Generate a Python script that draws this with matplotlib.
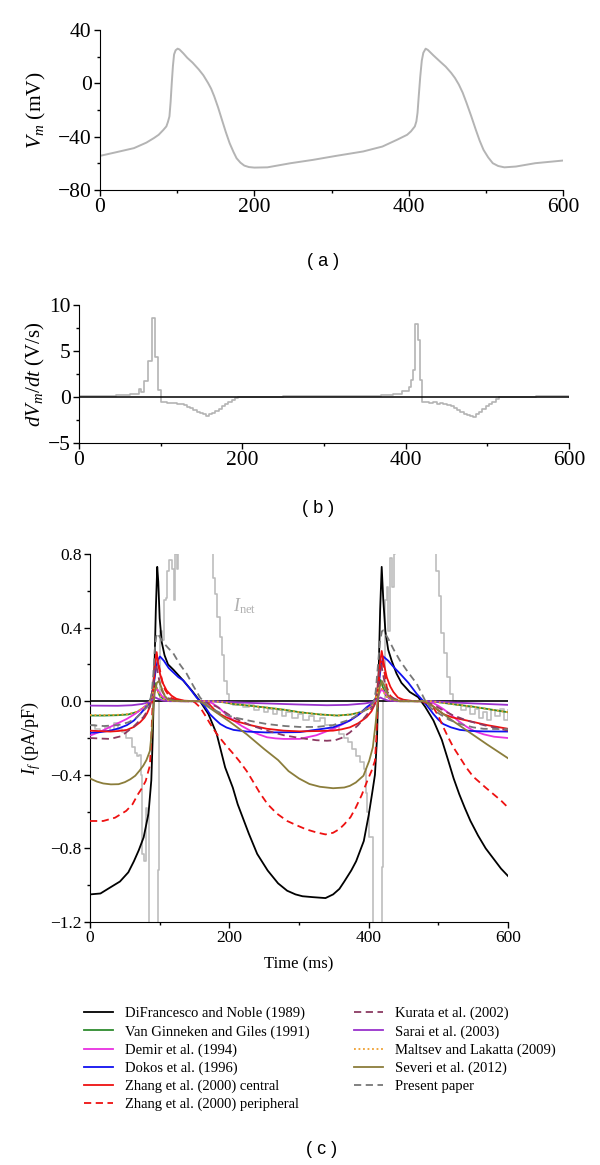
import matplotlib
matplotlib.use("Agg")
import matplotlib.pyplot as plt
from matplotlib.ticker import MultipleLocator, FuncFormatter
from matplotlib.lines import Line2D

plt.rcParams["font.family"] = ["Liberation Serif", "DejaVu Serif"]
plt.rcParams["mathtext.fontset"] = "custom"
plt.rcParams["mathtext.rm"] = "Liberation Serif"
plt.rcParams["mathtext.it"] = "Liberation Serif:italic"

# ------------------ DATA ------------------
# (a) membrane potential
vm_t = [0, 20, 44, 60, 70, 76, 82, 86, 88, 90, 91.5, 93, 94.5, 96, 98, 100.6, 103, 108, 113,
        120, 128, 134, 140, 144, 148, 153, 158, 163, 168, 173, 177, 182, 187, 193, 200, 217,
        247, 276, 306, 341, 366, 385, 398, 403, 408, 410, 411.5, 413, 415, 417, 419, 422, 425,
        432, 440, 448, 455, 460, 465, 470, 475, 481, 487, 492, 497, 503, 509, 516, 524, 539,
        564, 600]
vm_v = [-54.4, -51.8, -48.6, -44.5, -41, -38.6, -35, -32.3, -29, -24.8, -14, 0.3, 13, 21.7,
        24.8, 26, 25.4, 22.5, 19.2, 15.5, 10.4, 6, 0.3, -4, -9.7, -18, -27.3, -36.5, -44.9,
        -51.5, -56.2, -59.5, -61.7, -62.8, -63.2, -63, -59.9, -57.4, -54.4, -51.1, -47.4,
        -42.3, -38.6, -36, -32.3, -28.5, -22, -10, 5, 17, 22.9, 26, 25, 21, 16.7, 12.5, 7.9,
        4, -0.9, -7, -14.7, -24.5, -34.8, -43, -49.9, -55.5, -59.9, -62, -63, -62.4, -59.9,
        -57.9]

# (b) dVm/dt (steps)
dv_t = [0, 15, 30, 45, 55, 62, 69, 73, 76, 79, 84, 89, 93, 96.5, 100, 104, 108, 112, 116, 120,
        124, 128, 132, 136, 140, 144, 148, 152, 155, 159, 163, 167, 171, 175, 179, 183, 187,
        191, 195, 250, 300, 340, 370, 385, 393, 396, 404, 407, 409.5, 411.5, 415.5, 417.5, 420,
        428, 434, 438, 442, 446, 450, 455, 459, 463, 467, 471, 475, 479, 483, 486, 490, 494,
        498, 502, 506, 510, 514, 518, 560, 600]
dv_v = [0.1, 0.12, 0.15, 0.2, 0.25, 0.3, 0.35, 0.9, 0.5, 1.7, 3.9, 8.6, 4.3, 0.8, -0.5, -0.55,
        -0.6, -0.7, -0.65, -0.8, -0.75, -0.9, -1.05, -1.2, -1.4, -1.6, -1.75, -1.9, -2.05,
        -1.9, -1.75, -1.55, -1.3, -1.0, -0.75, -0.5, -0.3, -0.1, 0.04, 0.06, 0.08, 0.12, 0.2,
        0.3, 0.35, 0.7, 1.1, 1.8, 2.9, 7.9, 6.2, 1.8, -0.55, -0.6, -0.55, -0.75, -0.65, -0.8,
        -0.9, -1.0, -1.15, -1.4, -1.6, -1.8, -1.95, -2.05, -2.15, -1.9, -1.6, -1.3, -1.0,
        -0.75, -0.5, -0.25, -0.05, 0.04, 0.06, 0.04]

# (c) I_net (steps, clipped by the axes)
inet_t = [0, 7, 14, 22, 28, 34, 40, 46, 52, 57, 60, 64, 68, 71, 73, 75, 78, 80, 82, 84, 97,
          99, 100.5, 104, 106, 109, 111, 114, 117, 120, 122, 125, 127, 177, 180, 183, 186,
          189, 192, 196, 199, 205, 212, 220, 228, 235, 242, 250, 256, 262, 268, 275, 282,
          290, 298, 306, 314, 322, 330, 338, 346, 352, 358, 364, 370, 376, 382, 388, 393,
          396, 398, 401, 406, 419, 421, 423, 426, 428, 431, 434, 436, 438, 497, 501, 504,
          508, 513, 517, 521, 526, 533, 540, 546, 552, 558, 564, 570, 576, 582, 588, 594, 600]
inet_v = [-0.13, -0.15, -0.16, -0.14, -0.16, -0.12, -0.15, -0.17, -0.2, -0.2, -0.25, -0.28,
          -0.3, -0.29, -0.4, -0.83, -0.87, -0.58, -0.62, -1.6, -0.92, 0.0, 0.38, 0.33, 0.55,
          0.56, 0.71, 0.77, 0.72, 0.55, 0.8, 0.72, 1.5, 0.67, 0.58, 0.46, 0.35, 0.25, 0.11,
          0.04, -0.01, -0.02, -0.01, -0.03, -0.02, -0.05, -0.03, -0.06, -0.04, -0.07, -0.05,
          -0.08, -0.06, -0.09, -0.07, -0.1, -0.08, -0.11, -0.09, -0.13, -0.15, -0.13, -0.18,
          -0.2, -0.22, -0.26, -0.3, -0.33, -0.37, -0.5, -0.6, -0.74, -1.6, -0.9, 0.0, 0.55,
          0.62, 0.38, 0.78, 0.62, 0.8, 1.5, 0.71, 0.57, 0.37, 0.26, 0.13, 0.04, 0.0, -0.02,
          -0.05, -0.03, -0.07, -0.04, -0.09, -0.06, -0.1, -0.05, -0.08, -0.04, -0.1, -0.05]

# (c) I_f of the models
dfn_t = [0, 15, 30, 43, 55, 63, 70, 77, 84, 88, 90, 92, 94.5, 96.5, 98, 100, 103, 107, 112,
         120, 132, 146, 158, 170, 182, 194, 205, 212, 220, 228, 240, 255, 270, 283, 295, 305,
         320, 338, 349, 358, 365, 375, 382, 388, 393, 400, 405, 409, 412, 414, 416.5, 418.7,
         421, 424, 428, 433, 440, 447, 459, 471, 481, 493, 505, 514, 522, 530, 538, 546, 557,
         568, 580, 590, 600]
dfn_v = [-1.05, -1.045, -1.01, -0.98, -0.93, -0.87, -0.81, -0.74, -0.61, -0.43, -0.2, 0.1, 0.5,
         0.73, 0.65, 0.45, 0.32, 0.25, 0.2, 0.17, 0.12, 0.058, 0.0, -0.07, -0.18, -0.36,
         -0.47, -0.56, -0.64, -0.72, -0.83, -0.92, -0.99, -1.03, -1.05, -1.06, -1.065, -1.07,
         -1.05, -1.02, -0.98, -0.92, -0.87, -0.81, -0.76, -0.62, -0.5, -0.4, -0.2, 0.1, 0.5,
         0.73, 0.55, 0.38, 0.28, 0.22, 0.15, 0.1, 0.05, 0.022, -0.03, -0.105, -0.21, -0.32,
         -0.42, -0.505, -0.58, -0.65, -0.73, -0.8, -0.86, -0.91, -0.95]

vg_t = [0, 20, 40, 55, 68, 77, 84, 88, 91, 93, 96, 100, 106, 115, 130, 175, 190, 206, 230,
        254, 280, 301, 330, 355, 375, 390, 400, 407, 411, 414, 417, 420, 425, 432, 445, 490,
        505, 525, 550, 575, 600]
vg_v = [-0.078, -0.078, -0.076, -0.072, -0.058, -0.035, -0.012, 0.02, 0.08, 0.1, 0.07, 0.03,
        0.01, 0.002, 0.0, 0.0, -0.005, -0.015, -0.025, -0.035, -0.047, -0.06, -0.072, -0.078,
        -0.072, -0.058, -0.04, -0.015, 0.03, 0.09, 0.115, 0.08, 0.03, 0.01, 0.0, 0.0, -0.008,
        -0.018, -0.03, -0.045, -0.06]

dem_t = [0, 15, 29, 41, 53, 65, 77, 86, 90, 93, 95.7, 99, 104, 110, 120, 130, 165, 175, 185,
         195, 206, 218, 230, 242, 254, 266, 278, 301, 325, 349, 361, 373, 385, 397, 405, 411.5,
         415, 418.7, 423, 430, 440, 480, 490, 500, 508, 517, 528, 541, 552, 565, 580, 600]
dem_v = [-0.187, -0.165, -0.14, -0.118, -0.096, -0.068, -0.035, -0.01, 0.02, 0.055, 0.068,
         0.05, 0.025, 0.012, 0.003, 0.0, 0.0, -0.01, -0.035, -0.07, -0.105, -0.135, -0.16,
         -0.18, -0.196, -0.202, -0.205, -0.205, -0.185, -0.15, -0.128, -0.105, -0.075, -0.04,
         -0.02, 0.004, 0.04, 0.067, 0.045, 0.015, 0.003, 0.0, -0.005, -0.025, -0.045, -0.07,
         -0.105, -0.14, -0.163, -0.18, -0.193, -0.2]

dok_t = [0, 15, 29, 41, 53, 63, 72, 80, 85, 88, 91, 94, 97, 100.5, 106, 113, 120, 127, 134,
         143, 153, 158, 165, 172, 180, 187, 196, 206, 225, 254, 301, 325, 349, 361, 373, 385,
         397, 405, 411.5, 414, 417, 421, 428, 436, 445, 457, 469, 478.6, 486, 493, 500, 507,
         518, 531, 548, 565, 600]
dok_v = [-0.172, -0.168, -0.16, -0.148, -0.13, -0.105, -0.069, -0.035, -0.015, 0.02, 0.08,
         0.16, 0.22, 0.243, 0.22, 0.18, 0.155, 0.13, 0.113, 0.07, 0.02, 0.0, -0.03, -0.07,
         -0.1, -0.124, -0.143, -0.156, -0.165, -0.17, -0.168, -0.155, -0.142, -0.125, -0.105,
         -0.075, -0.033, -0.01, 0.02, 0.08, 0.17, 0.243, 0.22, 0.185, 0.15, 0.1, 0.04, 0.0,
         -0.035, -0.07, -0.1, -0.124, -0.142, -0.156, -0.162, -0.164, -0.165]

zc_t = [0, 15, 29, 41, 53, 63, 72, 78, 82, 86, 89, 91, 93, 95.7, 98, 100.5, 105, 110, 117,
        124, 135, 150, 165, 172, 182, 194, 206, 230, 254, 278, 301, 330, 349, 361, 373, 385,
        397, 404, 409, 412, 415, 418.7, 422, 426, 431, 435.5, 442, 450, 465, 480, 490, 500,
        507, 520, 541, 570, 600]
zc_v = [-0.16, -0.163, -0.165, -0.162, -0.156, -0.14, -0.114, -0.09, -0.065, -0.03, 0.02, 0.1,
        0.2, 0.267, 0.2, 0.149, 0.095, 0.058, 0.03, 0.013, 0.003, 0.0, 0.0, -0.02, -0.06,
        -0.085, -0.105, -0.13, -0.15, -0.16, -0.164, -0.162, -0.16, -0.153, -0.142, -0.12,
        -0.087, -0.055, -0.015, 0.05, 0.17, 0.273, 0.2, 0.13, 0.08, 0.05, 0.02, 0.008, 0.0,
        0.0, -0.02, -0.05, -0.07, -0.088, -0.105, -0.13, -0.15]

zp_t = [0, 19, 36, 52, 61, 69, 75, 80, 83, 86, 88, 89.5, 91, 93, 95, 97, 100.5, 104, 108,
        115, 125, 140, 150, 158, 165, 172, 182, 194, 206, 214, 225, 233, 244, 255, 268, 283,
        297, 310, 324, 338, 349, 358, 365, 374, 381.5, 390, 398, 404, 409, 411, 413, 415,
        417.5, 420, 423, 426, 431, 437, 450, 470, 480, 486, 493, 500, 507, 514, 521.5, 530,
        540, 550, 557, 568, 579, 590, 600]
zp_v = [-0.651, -0.651, -0.633, -0.596, -0.56, -0.505, -0.47, -0.433, -0.39, -0.35, -0.2,
        -0.05, 0.05, 0.18, 0.25, 0.22, 0.167, 0.1, 0.06, 0.02, 0.005, 0.0, -0.005, -0.033,
        -0.075, -0.12, -0.178, -0.235, -0.287, -0.324, -0.38, -0.43, -0.5, -0.56, -0.61,
        -0.651, -0.675, -0.696, -0.712, -0.724, -0.715, -0.695, -0.669, -0.63, -0.578, -0.51,
        -0.433, -0.38, -0.324, -0.2, 0.0, 0.12, 0.22, 0.21, 0.15, 0.076, 0.03, 0.01, 0.002,
        0.0, -0.005, -0.015, -0.035, -0.08, -0.14, -0.195, -0.25, -0.3, -0.36, -0.41, -0.433,
        -0.47, -0.505, -0.54, -0.578]

kur_t = [0, 15, 29, 45, 62, 70, 76.5, 82, 86, 89, 91, 93, 95, 97, 100, 104, 110, 120, 135,
         160, 170, 182, 194, 206, 230, 254, 278, 301, 325, 340, 352, 361, 373, 385, 397, 405,
         410, 412, 414, 416, 418, 420, 423, 427, 433, 443, 458, 480, 493, 507, 520, 541, 565,
         600]
kur_v = [-0.2, -0.203, -0.205, -0.19, -0.14, -0.11, -0.087, -0.055, -0.024, 0.03, 0.1, 0.17,
         0.2, 0.16, 0.1, 0.05, 0.02, 0.005, 0.0, 0.0, -0.01, -0.03, -0.06, -0.09, -0.13,
         -0.16, -0.185, -0.2, -0.212, -0.215, -0.212, -0.2, -0.17, -0.13, -0.075, -0.035,
         -0.01, 0.03, 0.1, 0.17, 0.2, 0.16, 0.1, 0.05, 0.02, 0.005, 0.0, 0.0, -0.02, -0.05,
         -0.075, -0.105, -0.13, -0.16]

sar_t = [0, 40, 60, 75, 85, 90, 94, 98, 105, 115, 170, 185, 220, 260, 300, 340, 370, 395, 408,
         413, 417, 421, 428, 440, 490, 510, 550, 600]
sar_v = [-0.024, -0.025, -0.022, -0.015, -0.005, 0.01, 0.02, 0.012, 0.003, 0.0, 0.0, -0.002,
         -0.008, -0.013, -0.018, -0.022, -0.02, -0.012, -0.003, 0.01, 0.02, 0.012, 0.003, 0.0,
         0.0, -0.005, -0.012, -0.02]

mal_t = [0, 20, 40, 55, 68, 77, 84, 88, 91, 94, 97, 101, 107, 115, 130, 175, 190, 206, 230,
         254, 280, 301, 330, 355, 375, 390, 400, 407, 411, 414, 417, 420, 425, 432, 445, 490,
         505, 525, 550, 575, 600]
mal_v = [-0.075, -0.076, -0.074, -0.07, -0.056, -0.034, -0.012, 0.015, 0.06, 0.08, 0.055,
         0.025, 0.008, 0.002, 0.0, 0.0, -0.005, -0.015, -0.025, -0.035, -0.047, -0.06, -0.072,
         -0.078, -0.072, -0.058, -0.04, -0.015, 0.025, 0.07, 0.09, 0.06, 0.025, 0.008, 0.0,
         0.0, -0.008, -0.018, -0.03, -0.045, -0.06]

sev_t = [0, 10, 19, 30, 41, 50, 58, 65, 71, 76.5, 81, 86, 89, 91, 93, 96, 99, 103, 107, 112,
         120, 158, 175, 200, 225, 250, 270, 285, 300, 315, 330, 349, 365, 373, 381.5, 392.5,
         400.8, 406, 410, 413, 416, 419, 423, 428, 434, 445, 480, 495, 520, 545, 570, 600]
sev_v = [-0.42, -0.437, -0.447, -0.452, -0.451, -0.44, -0.424, -0.405, -0.378, -0.35, -0.32,
         -0.27, -0.15, -0.03, 0.05, 0.1, 0.11, 0.07, 0.03, 0.01, 0.002, 0.0, -0.045, -0.11,
         -0.18, -0.26, -0.32, -0.38, -0.42, -0.45, -0.465, -0.473, -0.469, -0.46, -0.442,
         -0.405, -0.324, -0.25, -0.12, 0.0, 0.08, 0.11, 0.08, 0.03, 0.01, 0.0, 0.0, -0.035,
         -0.105, -0.17, -0.235, -0.31]

pres_t = [0, 20, 40, 55, 65, 75, 82, 86, 89, 91, 93, 95, 97, 100, 105, 112, 119.6, 129, 138.7,
          148, 158, 165, 172, 185, 205.7, 230, 253.6, 280, 301, 325, 349, 373, 390, 400, 407,
          410, 413, 416, 419, 421, 428, 436, 445, 457, 469, 475, 481, 490, 502, 515, 531, 550,
          565, 600]
pres_v = [-0.13, -0.135, -0.13, -0.115, -0.095, -0.06, -0.03, -0.005, 0.06, 0.15, 0.28, 0.35,
          0.37, 0.35, 0.32, 0.29, 0.26, 0.2, 0.15, 0.085, 0.02, -0.01, -0.033, -0.06, -0.087,
          -0.107, -0.124, -0.135, -0.14, -0.14, -0.13, -0.1, -0.06, -0.03, -0.005, 0.05, 0.18,
          0.32, 0.38, 0.385, 0.34, 0.28, 0.22, 0.155, 0.095, 0.05, 0.004, -0.04, -0.07, -0.1,
          -0.124, -0.142, -0.15, -0.152]

model_names = ["DiFrancesco and Noble (1989)", "Van Ginneken and Giles (1991)",
               "Demir et al. (1994)", "Dokos et al. (1996)", "Zhang et al. (2000) central",
               "Zhang et al. (2000) peripheral", "Kurata et al. (2002)", "Sarai et al. (2003)",
               "Maltsev and Lakatta (2009)", "Severi et al. (2012)", "Present paper"]

# ------------------ PLOT ------------------
W, H = 600, 1165
fig = plt.figure(figsize=(W / 100, H / 100), dpi=100)


def axes_px(x0, y0, x1, y1):
    return fig.add_axes([x0 / W, 1 - y1 / H, (x1 - x0) / W, (y1 - y0) / H])


def style(ax, fs):
    for s in ("top", "right"):
        ax.spines[s].set_visible(False)
    ax.tick_params(which="major", direction="out", length=4, width=1, labelsize=fs, pad=2)
    ax.tick_params(which="minor", direction="out", length=2.5, width=1)
    ax.set_xlim(0, 600)
    ax.xaxis.set_major_locator(MultipleLocator(200))
    ax.xaxis.set_minor_locator(MultipleLocator(100))


gray = "#b4b4b4"

# (a)
ax_a = axes_px(100, 30, 563, 190)
style(ax_a, 15.5)
ax_a.plot(vm_t, vm_v, color=gray, lw=1.4)
ax_a.set_ylim(-80, 40)
ax_a.yaxis.set_major_locator(MultipleLocator(40))
ax_a.yaxis.set_minor_locator(MultipleLocator(20))
ax_a.set_ylabel(r"$V_m$ (mV)", fontsize=15.5)
ax_a.yaxis.set_label_coords(-0.113, 0.5)
fig.text(323 / W, 1 - 261 / H, "( a )", ha="center", va="center",
         family="Liberation Sans", fontsize=13)

# (b)
ax_b = axes_px(79, 305, 569, 443)
style(ax_b, 15.5)
ax_b.plot(dv_t, dv_v, color=gray, lw=1.2, drawstyle="steps-post", zorder=2)
ax_b.axhline(0, color="black", lw=1.1, zorder=3)
ax_b.set_ylim(-5, 10)
ax_b.yaxis.set_major_locator(MultipleLocator(5))
ax_b.yaxis.set_minor_locator(MultipleLocator(2.5))
ax_b.set_ylabel(r"$dV_m/dt$ (V/s)", fontsize=15)
ax_b.yaxis.set_label_coords(-0.066, 0.5)
fig.text(318 / W, 1 - 508 / H, "( b )", ha="center", va="center",
         family="Liberation Sans", fontsize=13)

# (c)
ax_c = axes_px(90, 554, 508, 922)
style(ax_c, 12.5)
ax_c.set_ylim(-1.2, 0.8)
ax_c.yaxis.set_major_locator(MultipleLocator(0.4))
ax_c.yaxis.set_minor_locator(MultipleLocator(0.2))
ax_c.yaxis.set_major_formatter(FuncFormatter(lambda v, p: f"{v:.1f}".replace("-", "\u2212")))
ax_c.plot(inet_t, inet_v, color="#bdbdbd", lw=1.2, drawstyle="steps-post", zorder=1)
ax_c.axhline(0, color="black", lw=1.2, zorder=2)
ax_c.text(205, 0.49, r"$I_{\mathrm{net}}$", color="#b0b0b0", fontsize=13)

series = [
    (dfn_t, dfn_v, "#000000", "-"),
    (vg_t, vg_v, "#2e8b2e", "-"),
    (dem_t, dem_v, "#e830e0", "-"),
    (dok_t, dok_v, "#1010f0", "-"),
    (zc_t, zc_v, "#ee1111", "-"),
    (zp_t, zp_v, "#ee1111", (0, (4, 2.5))),
    (kur_t, kur_v, "#8b3a62", (0, (4, 2.5))),
    (sar_t, sar_v, "#9932cc", "-"),
    (mal_t, mal_v, "#f0a030", (0, (1, 1.5))),
    (sev_t, sev_v, "#8b7d3b", "-"),
    (pres_t, pres_v, "#777777", (0, (4, 2.5))),
]
handles = []
for (t, v, c, ls), name in zip(series, model_names):
    ax_c.plot(t, v, color=c, ls=ls, lw=1.3, zorder=3)
    handles.append(Line2D([], [], color=c, ls=ls, lw=1.3))

ax_c.set_xlabel("Time (ms)", fontsize=12, labelpad=7.5)
ax_c.set_ylabel(r"$I_f$ (pA/pF)", fontsize=13)
ax_c.yaxis.set_label_coords(-0.1125, 0.5)

fig.legend(handles, model_names, loc="upper left", bbox_to_anchor=(84 / W, 1 - 1007 / H),
           ncol=2, frameon=False, fontsize=10.5, handlelength=2.0, handletextpad=0.8,
           columnspacing=3.05, labelspacing=0.32, borderpad=0, borderaxespad=0)
fig.text(322 / W, 1 - 1150 / H, "( c )", ha="center", va="center",
         family="Liberation Sans", fontsize=13)

fig.savefig("out.png", dpi=100)
